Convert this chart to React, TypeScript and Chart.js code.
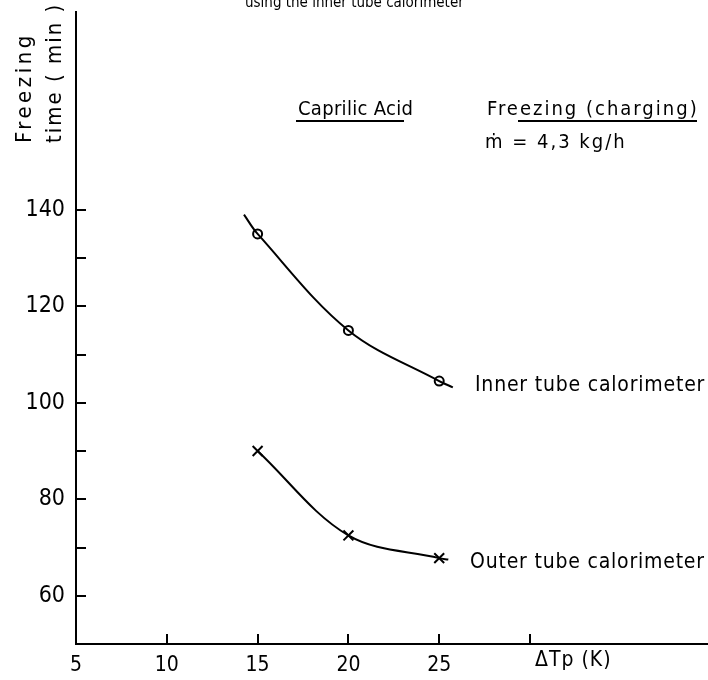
import React, { useEffect, useRef } from 'react';
import { Chart, registerables } from 'chart.js';

Chart.register(...registerables);

// ---- data ----
const innerPointsX = [15, 20, 25];
const innerPointsY = [135, 115, 104.5];
const outerPointsX = [15, 20, 25];
const outerPointsY = [90, 72.5, 67.8];

// hand-drawn fit curves (their visible ends as drawn in the figure)
const innerCurveX = [14.25, 15, 20, 25, 25.75];
const innerCurveY = [139, 135, 115, 104.5, 103.2];
const outerCurveX = [15, 20, 25, 25.5];
const outerCurveY = [90, 72.5, 67.8, 67.5];

const xTickValues = [5, 10, 15, 20, 25, 30];
const xTickLabels = ['5', '10', '15', '20', '25', ''];
const yTickValues = [60, 70, 80, 90, 100, 110, 120, 130, 140];
const yTickLabels = ['60', '', '80', '', '100', '', '120', '', '140'];

const FONT = '"DejaVu Sans Condensed", "Liberation Sans Narrow", "Liberation Sans", sans-serif';

const textPlugin = {
  id: 'figureTexts',
  afterDraw(chart: any) {
    const ctx: CanvasRenderingContext2D = chart.ctx;
    ctx.save();
    ctx.fillStyle = '#000';
    ctx.strokeStyle = '#000';
    ctx.textAlign = 'left';

    // cut-off caption at the top
    ctx.font = `15px ${FONT}`;
    (ctx as any).letterSpacing = '0px';
    ctx.textBaseline = 'alphabetic';
    ctx.fillText('using the inner tube calorimeter', 245, 7);

    // header annotations
    ctx.font = `20px ${FONT}`;
    (ctx as any).letterSpacing = '0.3px';
    ctx.fillText('Caprilic Acid', 298, 115);
    (ctx as any).letterSpacing = '2px';
    ctx.fillText('Freezing (charging)', 487, 115);
    ctx.fillText('\u1E41 = 4,3 kg/h', 485, 148);
    ctx.lineWidth = 1.8;
    ctx.beginPath();
    ctx.moveTo(296, 121);
    ctx.lineTo(404, 121);
    ctx.moveTo(518, 121);
    ctx.lineTo(697, 121);
    ctx.stroke();

    // curve labels
    ctx.font = `21px ${FONT}`;
    (ctx as any).letterSpacing = '0.8px';
    ctx.textBaseline = 'middle';
    ctx.fillText('Inner tube calorimeter', 475, 386);
    ctx.fillText('Outer tube calorimeter', 470, 563);

    // x axis title
    ctx.font = `21px ${FONT}`;
    (ctx as any).letterSpacing = '1px';
    ctx.fillText('\u0394Tp (K)', 535, 661);

    // y axis title (two rotated lines)
    ctx.font = `22px ${FONT}`;
    ctx.textBaseline = 'middle';
    ctx.save();
    ctx.translate(25, 143);
    ctx.rotate(-Math.PI / 2);
    (ctx as any).letterSpacing = '3.5px';
    ctx.fillText('Freezing', 0, 0);
    ctx.restore();
    ctx.save();
    ctx.translate(55, 143);
    ctx.rotate(-Math.PI / 2);
    (ctx as any).letterSpacing = '2px';
    ctx.fillText('time ( min )', 0, 0);
    ctx.restore();

    ctx.restore();
  },
};

export default function App() {
  const ref = useRef<HTMLCanvasElement | null>(null);

  useEffect(() => {
    if (!ref.current) return;
    const chart = new Chart(ref.current, {
      type: 'line',
      data: {
        datasets: [
          {
            data: innerCurveX.map((x, i) => ({ x, y: innerCurveY[i] })),
            borderColor: '#000',
            borderWidth: 2,
            pointRadius: 0,
            tension: 0.35,
            fill: false,
          },
          {
            data: outerCurveX.map((x, i) => ({ x, y: outerCurveY[i] })),
            borderColor: '#000',
            borderWidth: 2,
            pointRadius: 0,
            tension: 0.35,
            fill: false,
          },
          {
            data: innerPointsX.map((x, i) => ({ x, y: innerPointsY[i] })),
            showLine: false,
            pointStyle: 'circle',
            pointRadius: 4.5,
            pointBorderWidth: 2,
            pointBackgroundColor: '#fff',
            pointBorderColor: '#000',
          },
          {
            data: outerPointsX.map((x, i) => ({ x, y: outerPointsY[i] })),
            showLine: false,
            pointStyle: 'crossRot',
            pointRadius: 7,
            pointBorderWidth: 2,
            pointBorderColor: '#000',
          },
        ],
      } as any,
      options: {
        animation: false,
        responsive: false,
        layout: { autoPadding: false, padding: { top: 12, right: 0, left: 0, bottom: 0 } },
        plugins: { legend: { display: false }, tooltip: { enabled: false } },
        scales: {
          x: {
            type: 'linear',
            min: 5,
            max: 39.8,
            afterBuildTicks: (s: any) => {
              s.ticks = xTickValues.map((v) => ({ value: v }));
            },
            afterFit: (s: any) => {
              s.height = 36;
              s.paddingLeft = 0;
              s.paddingRight = 0;
            },
            ticks: {
              callback: (v: any) => {
                const i = xTickValues.indexOf(Number(v));
                return i >= 0 ? xTickLabels[i] : '';
              },
              font: { family: FONT, size: 21 },
              color: '#000',
              padding: 19,
              maxRotation: 0,
              autoSkip: false,
            },
            grid: { drawOnChartArea: false, tickLength: -10, color: '#000', lineWidth: 2 },
            border: { color: '#000', width: 2 },
          },
          y: {
            type: 'linear',
            min: 50,
            max: 181,
            afterBuildTicks: (s: any) => {
              s.ticks = yTickValues.map((v) => ({ value: v }));
            },
            afterFit: (s: any) => {
              s.width = 76;
              s.paddingTop = 0;
              s.paddingBottom = 0;
            },
            ticks: {
              callback: (v: any) => {
                const i = yTickValues.indexOf(Number(v));
                return i >= 0 ? yTickLabels[i] : '';
              },
              font: { family: FONT, size: 23 },
              color: '#000',
              padding: 21,
              autoSkip: false,
            },
            grid: { drawOnChartArea: false, tickLength: -10, color: '#000', lineWidth: 2 },
            border: { color: '#000', width: 2 },
          },
        },
      } as any,
      plugins: [textPlugin],
    });
    return () => chart.destroy();
  }, []);

  return (
    <div style={{ position: 'absolute', left: 0, top: 0, width: 708, height: 680, background: '#fff' }}>
      <canvas ref={ref} width={708} height={680} style={{ display: 'block', width: 708, height: 680 }} />
    </div>
  );
}
